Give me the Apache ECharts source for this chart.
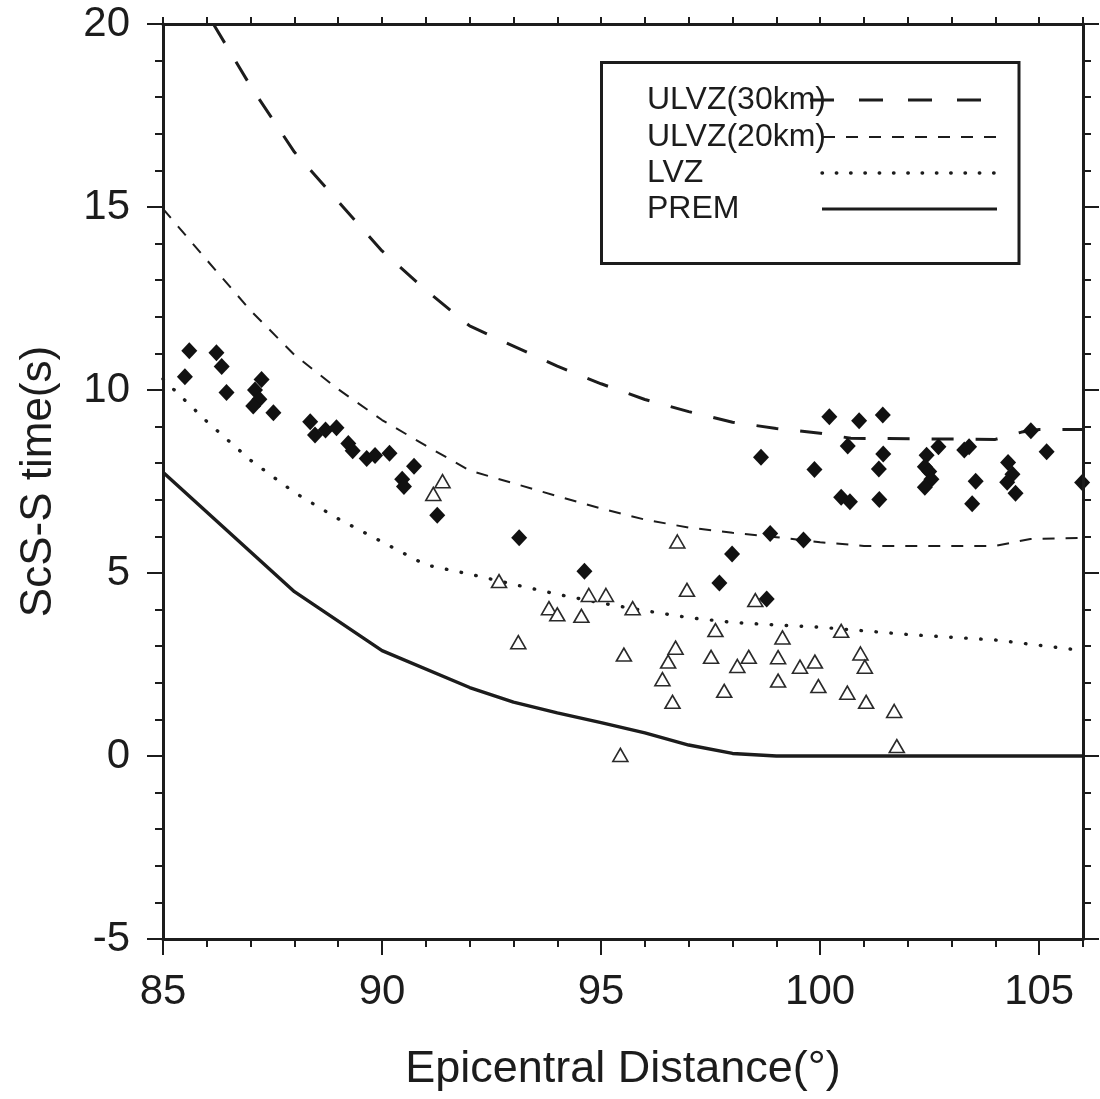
<!DOCTYPE html>
<html>
<head>
<meta charset="utf-8">
<script src="https://cdn.jsdelivr.net/npm/echarts@6/dist/echarts.min.js"></script>
<style>
html,body{margin:0;padding:0;background:#fff;}
#chart{width:1100px;height:1099px;}
</style>
</head>
<body>
<div id="chart"></div>
<script>
// ---- data (distance in degrees, ScS-S time in s) ----
const xTicks = [85, 90, 95, 100, 105];
const yTicks = [-5, 0, 5, 10, 15, 20];

const premCurve = [[85,7.75],[88,4.49],[90,2.88],[92,1.87],[93,1.47],[94,1.18],[95,0.91],[96,0.63],[97,0.30],[98,0.07],[99,0],[106,0]];
const lvzCurve = [[85,10.3],[86,9.14],[87,8.08],[88,7.2],[89,6.48],[90,5.85],[91,5.22],[92,4.97],[93,4.69],[94,4.42],[95,4.18],[96,3.97],[97,3.78],[98,3.65],[99,3.58],[100,3.52],[102,3.32],[104,3.17],[106,2.88]];
const ulvz20Curve = [[85,14.95],[86,13.55],[87,12.17],[88,10.96],[89,10.02],[90,9.18],[91,8.48],[92,7.80],[93,7.45],[94,7.10],[95,6.76],[96,6.46],[97,6.24],[98,6.10],[99,5.98],[100,5.84],[101,5.74],[104,5.74],[104.8,5.93],[106,5.96]];
const ulvz30Curve = [[86.15,20],[87,18.3],[88,16.5],[89,15.15],[90,13.8],[91,12.73],[92,11.75],[93,11.2],[94,10.65],[95,10.17],[96,9.74],[97,9.41],[98,9.12],[99,8.95],[100,8.82],[100.7,8.68],[104,8.65],[104.6,8.85],[105,8.92],[106,8.92]];

const diamondObs = [
  [85.60,11.07],[85.50,10.36],[86.22,11.02],[86.34,10.64],[86.45,9.93],[87.25,10.29],[87.10,10.0],[87.20,9.75],[87.06,9.56],[87.52,9.38],
  [88.36,9.13],[88.47,8.77],[88.71,8.91],[88.96,8.97],[89.23,8.54],[89.33,8.34],[89.65,8.13],[89.84,8.21],[90.17,8.27],[90.73,7.92],
  [90.46,7.56],[90.50,7.36],[91.26,6.58],
  [93.13,5.96],[94.62,5.05],[97.99,5.52],[97.70,4.73],[98.78,4.29],[98.86,6.08],[99.62,5.90],[98.65,8.16],
  [99.87,7.83],[100.21,9.27],[100.89,9.16],[101.43,9.32],[100.63,8.47],[101.44,8.25],[101.34,7.84],[100.48,7.07],[100.68,6.95],[101.35,7.01],
  [102.43,8.22],[102.70,8.45],[102.39,7.90],[102.49,7.77],[102.54,7.56],[102.39,7.34],[103.29,8.36],[103.40,8.45],[103.55,7.51],[103.47,6.89],
  [104.29,8.02],[104.39,7.70],[104.27,7.48],[104.46,7.18],[104.81,8.89],[105.17,8.31],[105.98,7.47]
];
const triangleObs = [
  [91.38,7.51],[91.17,7.16],[92.67,4.78],[94.72,4.40],[95.11,4.40],[93.81,4.04],[94.00,3.87],[94.55,3.83],[95.72,4.04],[93.11,3.11],
  [95.52,2.77],[95.44,0.03],[96.74,5.86],[96.96,4.54],[98.52,4.26],[97.61,3.44],[96.70,2.96],[96.53,2.58],[96.40,2.10],[96.63,1.48],
  [97.51,2.71],[98.37,2.71],[98.11,2.46],[97.81,1.78],[99.14,3.24],[99.04,2.70],[99.04,2.06],[99.54,2.44],[99.88,2.58],[99.96,1.91],
  [100.48,3.42],[100.92,2.80],[101.02,2.44],[100.62,1.73],[101.05,1.48],[101.69,1.23],[101.75,0.27]
];

const legendNames = ['ULVZ(30km)', 'ULVZ(20km)', 'LVZ', 'PREM'];

// ---- chart ----
const FONT = "'Liberation Sans', Arial, Helvetica, sans-serif";
const INK = '#1c1c1c';
const chart = echarts.init(document.getElementById('chart'), null, {renderer: 'canvas'});

const legendRowsY = [100, 137, 173, 209];
const legendStyles = [
  {lineWidth: 3, lineDash: [24, 25]},
  {lineWidth: 2, lineDash: [12, 11]},
  {lineWidth: 3.4, lineDash: [0.5, 13.8], lineCap: 'round'},
  {lineWidth: 3.2, lineDash: null}
];
const legendLineX = [[810, 982], [823, 998], [822, 996], [822, 997]];
const graphics = [{
  type: 'rect', z: 100,
  shape: {x: 601.5, y: 62.5, width: 417.5, height: 201},
  style: {fill: '#fff', stroke: INK, lineWidth: 3}
}];
legendNames.forEach((n, i) => {
  graphics.push({
    type: 'text', z: 101, x: 647, y: legendRowsY[i],
    style: {text: n, font: '32px ' + FONT, fill: INK, textVerticalAlign: 'middle', verticalAlign: 'middle'}
  });
});
legendNames.forEach((n, i) => {
  const s = legendStyles[i];
  graphics.push({
    type: 'line', z: 102,
    shape: {x1: legendLineX[i][0], y1: legendRowsY[i], x2: legendLineX[i][1], y2: legendRowsY[i]},
    style: {stroke: INK, lineWidth: s.lineWidth, lineDash: s.lineDash, lineCap: s.lineCap || 'butt'}
  });
});

const lineSeries = (name, data, style) => ({
  name, type: 'line', data, xAxisIndex: 0, yAxisIndex: 0,
  showSymbol: false, symbol: 'none', smooth: false, z: 3, silent: true,
  lineStyle: Object.assign({color: INK}, style)
});

chart.setOption({
  animation: false,
  backgroundColor: '#fff',
  grid: {left: 163, right: 17, top: 24, bottom: 160, containLabel: false},
  xAxis: [
    {
      type: 'value', position: 'bottom', min: 85, max: 106, interval: 5, z: 10,
      name: 'Epicentral Distance(\u00B0)', nameLocation: 'middle', nameGap: 108,
      nameTextStyle: {fontFamily: FONT, fontSize: 45, color: INK},
      axisLine: {show: true, onZero: false, lineStyle: {color: INK, width: 3}},
      axisTick: {show: true, inside: false, length: 16, lineStyle: {color: INK, width: 2}},
      axisLabel: {show: true, margin: 32, fontFamily: FONT, fontSize: 42, color: INK, showMaxLabel: false,
        formatter: v => (xTicks.indexOf(v) >= 0 ? String(v) : '')},
      splitLine: {show: false}
    },
    {
      type: 'value', position: 'bottom', min: 85, max: 106, interval: 1, z: 9,
      axisLine: {show: false, onZero: false},
      axisTick: {show: true, inside: false, length: 8, lineStyle: {color: INK, width: 2}},
      axisLabel: {show: false}, splitLine: {show: false}
    },
    {
      type: 'value', position: 'top', min: 85, max: 106, interval: 1, z: 10,
      axisLine: {show: true, onZero: false, lineStyle: {color: INK, width: 3}},
      axisTick: {show: true, inside: false, length: 7, lineStyle: {color: INK, width: 2}},
      axisLabel: {show: false}, splitLine: {show: false}
    }
  ],
  yAxis: [
    {
      type: 'value', position: 'left', min: -5, max: 20, interval: 5, z: 10,
      name: 'ScS-S time(s)', nameLocation: 'middle', nameGap: 102, nameRotate: 90,
      nameTextStyle: {fontFamily: FONT, fontSize: 44, color: INK},
      axisLine: {show: true, onZero: false, lineStyle: {color: INK, width: 3}},
      axisTick: {show: true, inside: false, length: 16, lineStyle: {color: INK, width: 2}},
      minorTick: {show: true, splitNumber: 5, length: 8, lineStyle: {color: INK, width: 2}},
      axisLabel: {show: true, margin: 33, fontFamily: FONT, fontSize: 42, color: INK,
        formatter: v => (yTicks.indexOf(v) >= 0 ? String(v) : '')},
      splitLine: {show: false}, minorSplitLine: {show: false}
    },
    {
      type: 'value', position: 'right', min: -5, max: 20, interval: 5, z: 10,
      axisLine: {show: true, onZero: false, lineStyle: {color: INK, width: 3}},
      axisTick: {show: true, inside: false, length: 16, lineStyle: {color: INK, width: 2}},
      minorTick: {show: true, splitNumber: 5, length: 8, lineStyle: {color: INK, width: 2}},
      axisLabel: {show: false}, splitLine: {show: false}, minorSplitLine: {show: false}
    }
  ],
  series: [
    lineSeries('PREM', premCurve, {width: 3.4, type: 'solid'}),
    lineSeries('LVZ', lvzCurve, {width: 3.4, type: [0.5, 14.5], cap: 'round'}),
    lineSeries('ULVZ(20km)', ulvz20Curve, {width: 2, type: [12, 11]}),
    lineSeries('ULVZ(30km)', ulvz30Curve, {width: 3, type: [22, 22]}),
    {
      name: 'obs-diamond', type: 'scatter', data: diamondObs, symbol: 'diamond', symbolSize: [16, 17],
      z: 5, silent: true,
      itemStyle: {color: '#111', borderWidth: 0, opacity: 1}
    },
    {
      name: 'obs-triangle', type: 'scatter', data: triangleObs, symbol: 'triangle', symbolSize: [15, 13],
      z: 5, silent: true,
      itemStyle: {color: '#fff', borderColor: '#2a2a2a', borderWidth: 1.6, opacity: 1}
    }
  ],
  graphic: graphics
});
</script>
</body>
</html>
